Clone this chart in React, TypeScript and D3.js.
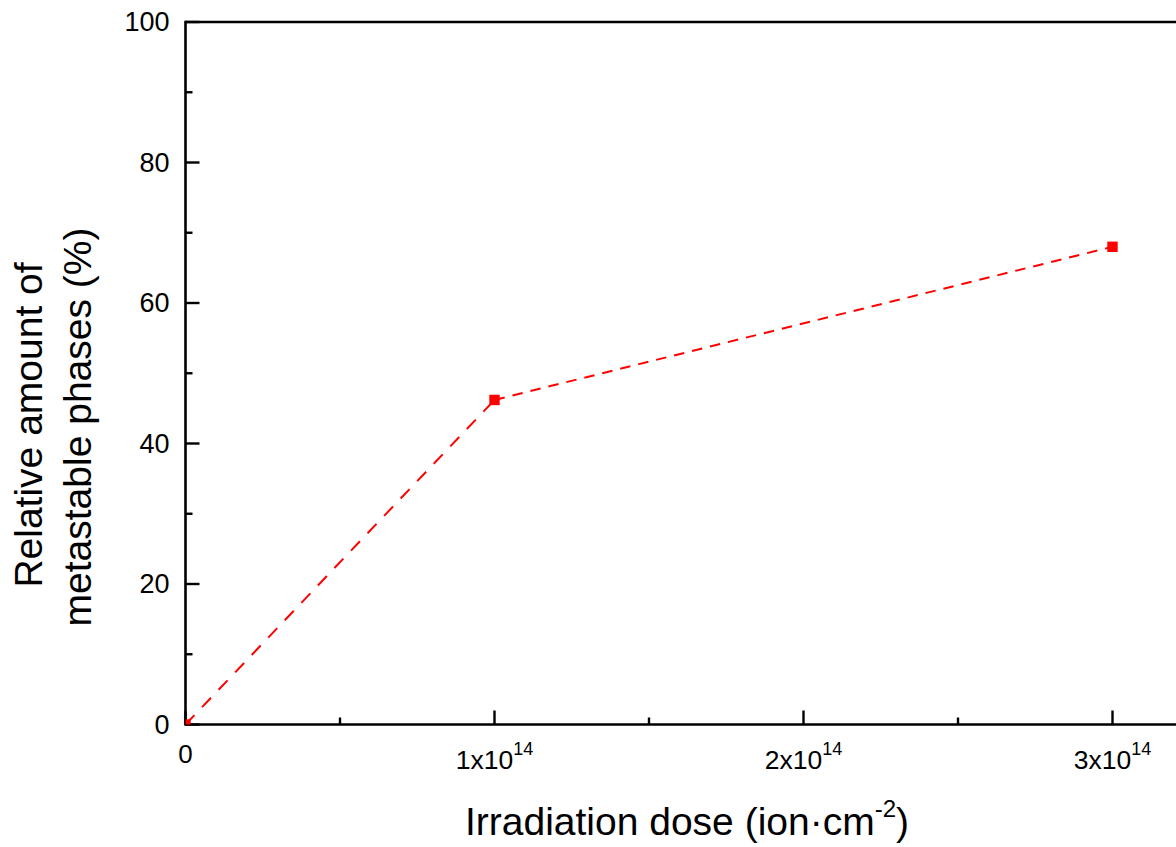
import React from "react";
import * as d3 from "d3";

const doses = [0, 1e14, 3e14];
const amounts = [0, 46.2, 68];
const xMajorTicks = [0, 1e14, 2e14, 3e14];
const xMinorTicks = [0.5e14, 1.5e14, 2.5e14];
const yMajorTicks = [0, 20, 40, 60, 80, 100];
const yMinorTicks = [10, 30, 50, 70, 90];
const segmentDashes = ["13,11", "10.5,8"];

const W = 1176;
const H = 847;
const FONT = "'Liberation Sans', Arial, Helvetica, sans-serif";

export default function App() {
  const left = 185.5;
  const top = 22;
  const bottom = 724.5;
  const unit = 309; // px per 1e14
  const xMax = 3.3e14;
  const x = d3.scaleLinear().domain([0, xMax]).range([left, left + unit * 3.3]);
  const y = d3.scaleLinear().domain([0, 100]).range([bottom, top]);
  const right = x(xMax);

  const pts: [number, number][] = doses.map((d, i) => [x(d), y(amounts[i])]);
  const line = d3.line();
  const segs = pts.slice(1).map((p, i) => line([pts[i], p]) as string);

  const sw = 2.6;
  return (
    <svg
      width={W}
      height={H}
      style={{ position: "absolute", left: 0, top: 0, background: "#fff" }}
      fontFamily={FONT}
    >
      <defs>
        <clipPath id="plotclip">
          <rect x={left} y={top} width={right - left} height={bottom - top} />
        </clipPath>
      </defs>
      <rect x={0} y={0} width={W} height={H} fill="#fff" />
      {/* data line */}
      <g clipPath="url(#plotclip)">
        {segs.map((d, i) => (
          <path
            key={i}
            d={d}
            fill="none"
            stroke="#ff0000"
            strokeWidth={2}
            strokeDasharray={segmentDashes[i]}
          />
        ))}
      </g>
      {/* frame */}
      <line x1={left} x2={right} y1={top} y2={top} stroke="#000" strokeWidth={sw} />
      <line x1={left} x2={right} y1={bottom} y2={bottom} stroke="#000" strokeWidth={sw} />
      <line x1={left} x2={left} y1={top - sw / 2} y2={bottom + sw / 2} stroke="#000" strokeWidth={sw} />
      <line x1={right} x2={right} y1={top} y2={bottom} stroke="#000" strokeWidth={sw} />
      {/* x ticks */}
      {xMajorTicks.map((t) => (
        <line key={"xM" + t} x1={x(t)} x2={x(t)} y1={bottom} y2={bottom - 14} stroke="#000" strokeWidth={2.4} />
      ))}
      {xMinorTicks.map((t) => (
        <line key={"xm" + t} x1={x(t)} x2={x(t)} y1={bottom} y2={bottom - 7} stroke="#000" strokeWidth={2.4} />
      ))}
      {/* y ticks */}
      {yMajorTicks.map((t) => (
        <line key={"yM" + t} x1={left} x2={left + 14} y1={y(t)} y2={y(t)} stroke="#000" strokeWidth={2.4} />
      ))}
      {yMinorTicks.map((t) => (
        <line key={"ym" + t} x1={left} x2={left + 7} y1={y(t)} y2={y(t)} stroke="#000" strokeWidth={2.4} />
      ))}
      {/* y tick labels */}
      {yMajorTicks.map((t) => (
        <text key={"yl" + t} x={left - 16} y={y(t) + 9} textAnchor="end" fontSize={27} fill="#000">
          {t}
        </text>
      ))}
      {/* x tick labels */}
      {xMajorTicks.map((t) =>
        t === 0 ? (
          <text key={"xl" + t} x={x(t)} y={763} textAnchor="middle" fontSize={26} fill="#000">
            0
          </text>
        ) : (
          <text key={"xl" + t} x={x(t)} y={769} textAnchor="middle" fontSize={26.5} fill="#000">
            {`${Math.round(t / 1e14)}x10`}
            <tspan fontSize={18} dy={-14}>14</tspan>
          </text>
        )
      )}
      {/* markers */}
      <g clipPath="url(#plotclip)">
        {pts.map((p, i) => (
          <rect key={i} x={p[0] - 5.2} y={p[1] - 5.2} width={10.4} height={10.4} fill="#ff0000" />
        ))}
      </g>
      {/* axis titles */}
      <text x={687} y={835} textAnchor="middle" fontSize={39} fill="#000">
        Irradiation dose (ion·cm
        <tspan fontSize={24} dy={-18}>-2</tspan>
        <tspan dy={18}>)</tspan>
      </text>
      <text transform="translate(42,425) rotate(-90)" textAnchor="middle" fontSize={39} fill="#000">
        Relative amount of
      </text>
      <text transform="translate(91,427) rotate(-90)" textAnchor="middle" fontSize={39} fill="#000">
        metastable phases (%)
      </text>
    </svg>
  );
}
